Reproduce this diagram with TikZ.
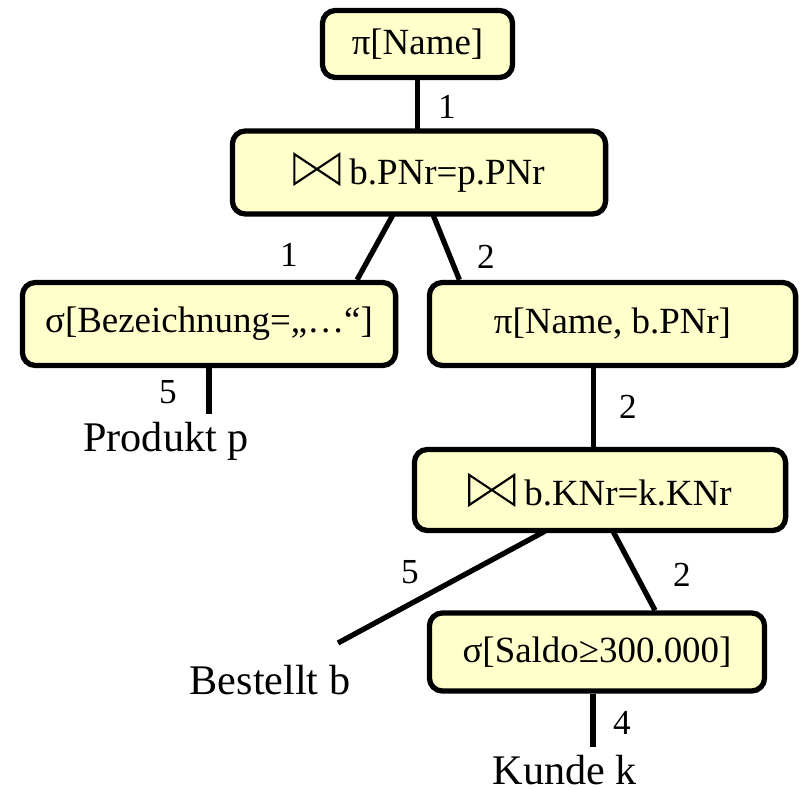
\documentclass[tikz,border=0pt]{standalone}
\usepackage{fontspec}
\setmainfont{Liberation Serif}
\definecolor{opyellow}{RGB}{255,255,204}
% join symbol, drawn as a thin bow tie sitting on the baseline
\newcommand\joinop{\tikz[baseline=0pt]\draw[sharp corners,line width=0.6pt,line join=miter]
    (0cm,0cm) -- (0cm,0.3cm) -- (0.45cm,0cm) -- (0.45cm,0.3cm) -- cycle;\hspace{0.09cm}}

\begin{document}
\begin{tikzpicture}[x=0.01cm,y=-0.01cm,line width=1.5pt]
    \tikzstyle{op}=[draw=black,fill=opyellow,rounded corners=0.13cm,inner sep=0pt,
        font=\fontsize{10.5}{12}\selectfont]
    \tikzstyle{rel}=[inner xsep=0.06cm,inner ysep=0.01cm,anchor=base,font=\fontsize{12}{14}\selectfont]
    \tikzstyle{num}=[inner sep=0pt,font=\fontsize{10}{12}\selectfont]
    \useasboundingbox (0,0) rectangle (806,789);

    % operators
    \node[op,minimum width=1.90cm,minimum height=0.67cm] (pname) at (417.5,44) {π[Name]};
    \node[op,minimum width=3.73cm,minimum height=0.83cm] (join1) at (419,172.5) {\joinop b.PNr=p.PNr};
    \node[op,minimum width=3.73cm,minimum height=0.83cm] (selP) at (209,324) {σ[Bezeichnung=„…“]};
    \node[op,minimum width=3.66cm,minimum height=0.83cm] (projB) at (612.5,324) {π[Name, b.PNr]};
    \node[op,minimum width=3.71cm,minimum height=0.81cm] (join2) at (600,490) {\joinop b.KNr=k.KNr};
    \node[op,minimum width=3.35cm,minimum height=0.78cm] (selS) at (597,652) {σ[Saldo≥300.000]};

    % base relations
    \node[rel] (prod) at (166,452) {Produkt p};
    \node[rel] (best) at (270,695) {Bestellt b};
    \node[rel] (kunde) at (565,785) {Kunde k};
    \coordinate (best-end) at (338,643);

    % edges
    \draw (pname.south) -- (pname.south |- join1.north);
    \draw ([xshift=-0.26cm]join1.south) -- ([xshift=1.48cm]selP.north);
    \draw ([xshift=0.14cm]join1.south) -- ([xshift=-1.53cm]projB.north);
    \draw[shorten >=0.05cm] (selP.south) -- (selP.south |- prod.north);
    \draw ([xshift=-0.19cm]projB.south) -- ([xshift=-0.19cm]projB.south |- join2.north);
    \draw ([xshift=-0.55cm]join2.south) -- (best-end);
    \draw ([xshift=0.13cm]join2.south) -- ([xshift=0.58cm]selS.north);
    \draw[shorten >=0.05cm] ([xshift=-0.04cm]selS.south) -- ([xshift=-0.04cm]selS.south |- kunde.north);

    % cardinalities
    \foreach \name/\x/\y/\val in {a/447/107/1, b/289/255/1, c/486/257/2, d/168/392/5,
            e/628/407/2, f/410/572/5, g/682/575/2, h/622/723/4}
        \node[num] (N-\name) at (\x,\y) {\val};
\end{tikzpicture}
\end{document}
